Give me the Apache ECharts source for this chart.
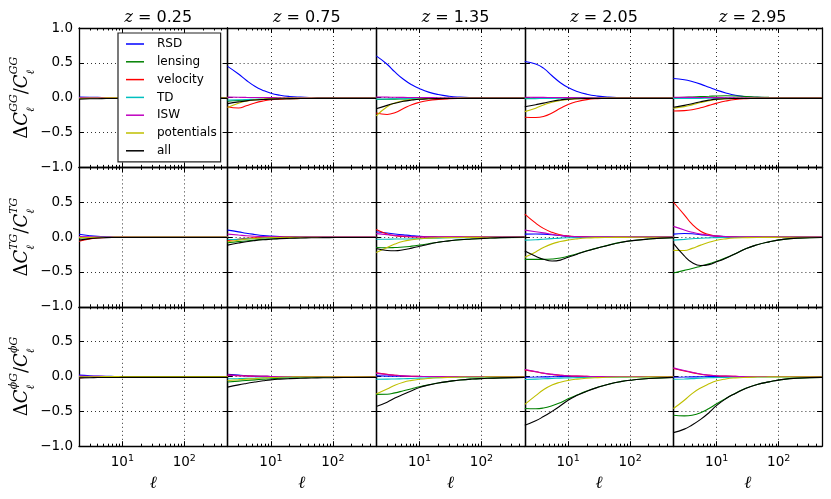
<!DOCTYPE html>
<html>
<head>
<meta charset="utf-8">
<script src="https://cdn.jsdelivr.net/npm/echarts@6.0.0/dist/echarts.min.js"></script>
<style>
  html, body { margin: 0; padding: 0; background: #fff; }
  #main { width: 831px; height: 499px; }
</style>
</head>
<body>
<div id="main"></div>
<script>
// multipoles the curves are sampled at
const ells = [2, 3, 4, 5.5, 7.5, 10, 14, 20, 30, 45, 70, 110, 200, 500];
const redshifts = ['0.25', '0.75', '1.35', '2.05', '2.95'];
const effects = ['RSD', 'lensing', 'velocity', 'TD', 'ISW', 'potentials', 'all'];
const effectColors = ['#0000ff', '#008000', '#ff0000', '#00bfbf', '#bf00bf', '#bfbf00', '#000000'];
const majorTicks = [10, 100];
const minorTicks = [3, 4, 5, 6, 7, 8, 9, 20, 30, 40, 50, 60, 70, 80, 90, 200, 300, 400];

// ---- GG ----
const GG_z025 = {
  RSD:        [0.01, 0.007, 0.005, 0.003, 0.002, 0.001, 0, 0, 0, 0, 0, 0, 0, 0],
  lensing:    [-0.006, -0.005, -0.004, -0.004, -0.003, -0.003, -0.002, -0.002, -0.001, -0.001, 0, 0, 0, 0],
  velocity:   [-0.012, -0.007, -0.004, -0.002, -0.001, 0, 0, 0, 0, 0, 0, 0, 0, 0],
  TD:         [-0.006, -0.005, -0.004, -0.003, -0.003, -0.002, -0.002, -0.001, -0.001, 0, 0, 0, 0, 0],
  ISW:        [0.003, 0.002, 0.001, 0.001, 0, 0, 0, 0, 0, 0, 0, 0, 0, 0],
  potentials: [-0.01, -0.006, -0.004, -0.003, -0.002, -0.001, 0, 0, 0, 0, 0, 0, 0, 0],
  all:        [-0.02, -0.016, -0.014, -0.012, -0.011, -0.01, -0.01, -0.01, -0.01, -0.01, -0.01, -0.01, -0.01, -0.01]
};
const GG_z075 = {
  RSD:        [0.45, 0.34, 0.25, 0.165, 0.105, 0.064, 0.036, 0.018, 0.008, 0.003, 0.001, 0, 0, 0],
  lensing:    [-0.05, -0.04, -0.035, -0.03, -0.025, -0.02, -0.017, -0.014, -0.012, -0.011, -0.01, -0.01, -0.01, -0.01],
  velocity:   [-0.13, -0.148, -0.115, -0.075, -0.047, -0.03, -0.02, -0.015, -0.012, -0.01, -0.008, -0.007, -0.006, -0.005],
  TD:         [-0.035, -0.03, -0.027, -0.022, -0.018, -0.015, -0.012, -0.01, -0.008, -0.006, -0.005, -0.005, -0.005, -0.005],
  ISW:        [0.008, 0.006, 0.004, 0.003, 0.002, 0.001, 0, 0, 0, 0, 0, 0, 0, 0],
  potentials: [-0.14, -0.08, -0.05, -0.03, -0.02, -0.012, -0.008, -0.006, -0.005, -0.005, -0.005, -0.005, -0.005, -0.005],
  all:        [-0.085, -0.06, -0.045, -0.033, -0.025, -0.02, -0.016, -0.013, -0.012, -0.011, -0.01, -0.01, -0.01, -0.01]
};
const GG_z135 = {
  RSD:        [0.60, 0.48, 0.37, 0.265, 0.185, 0.13, 0.08, 0.045, 0.021, 0.009, 0.003, 0.001, 0, 0],
  lensing:    [-0.025, -0.022, -0.02, -0.018, -0.016, -0.014, -0.012, -0.011, -0.01, -0.01, -0.01, -0.01, -0.01, -0.01],
  velocity:   [-0.22, -0.24, -0.215, -0.155, -0.1, -0.066, -0.04, -0.025, -0.015, -0.01, -0.008, -0.006, -0.005, -0.005],
  TD:         [-0.02, -0.018, -0.016, -0.014, -0.012, -0.01, -0.009, -0.008, -0.007, -0.006, -0.005, -0.005, -0.005, -0.005],
  ISW:        [0.01, 0.008, 0.006, 0.004, 0.003, 0.002, 0.001, 0, 0, 0, 0, 0, 0, 0],
  potentials: [-0.26, -0.13, -0.075, -0.045, -0.028, -0.018, -0.013, -0.01, -0.008, -0.006, -0.005, -0.005, -0.005, -0.005],
  all:        [-0.16, -0.11, -0.08, -0.052, -0.034, -0.022, -0.016, -0.013, -0.012, -0.011, -0.01, -0.01, -0.01, -0.01]
};
const GG_z205 = {
  RSD:        [0.52, 0.485, 0.425, 0.315, 0.215, 0.146, 0.09, 0.05, 0.023, 0.008, 0.002, 0, 0, 0],
  lensing:    [-0.01, -0.008, -0.006, -0.004, -0.002, 0, 0.002, 0.003, 0.003, 0.002, 0.001, 0, 0, 0],
  velocity:   [-0.28, -0.285, -0.27, -0.22, -0.152, -0.097, -0.055, -0.027, -0.013, -0.008, -0.006, -0.005, -0.005, -0.005],
  TD:         [-0.015, -0.013, -0.011, -0.009, -0.008, -0.007, -0.006, -0.005, -0.005, -0.005, -0.005, -0.005, -0.005, -0.005],
  ISW:        [0.006, 0.005, 0.004, 0.003, 0.002, 0.001, 0, 0, 0, 0, 0, 0, 0, 0],
  potentials: [-0.2, -0.15, -0.105, -0.065, -0.04, -0.024, -0.015, -0.01, -0.007, -0.006, -0.005, -0.005, -0.005, -0.005],
  all:        [-0.13, -0.1, -0.078, -0.05, -0.032, -0.021, -0.015, -0.012, -0.011, -0.01, -0.01, -0.01, -0.01, -0.01]
};
const GG_z295 = {
  RSD:        [0.275, 0.257, 0.232, 0.195, 0.15, 0.108, 0.068, 0.035, 0.013, 0.004, 0.001, 0, 0, 0],
  lensing:    [0, 0.005, 0.01, 0.015, 0.02, 0.025, 0.027, 0.025, 0.018, 0.01, 0.005, 0.002, 0, 0],
  velocity:   [-0.19, -0.185, -0.172, -0.145, -0.11, -0.078, -0.048, -0.026, -0.013, -0.007, -0.005, -0.005, -0.005, -0.005],
  TD:         [-0.012, -0.011, -0.01, -0.009, -0.008, -0.007, -0.006, -0.005, -0.005, -0.005, -0.005, -0.005, -0.005, -0.005],
  ISW:        [0.006, 0.005, 0.004, 0.003, 0.002, 0.001, 0, 0, 0, 0, 0, 0, 0, 0],
  potentials: [-0.15, -0.128, -0.103, -0.07, -0.043, -0.026, -0.016, -0.01, -0.007, -0.006, -0.005, -0.005, -0.005, -0.005],
  all:        [-0.137, -0.11, -0.086, -0.057, -0.035, -0.021, -0.014, -0.012, -0.011, -0.01, -0.01, -0.01, -0.01, -0.01]
};

// ---- TG ----
const TG_z025 = {
  RSD:        [0.04, 0.02, 0.01, 0.005, 0.002, 0.001, 0, 0, 0, 0, 0, 0, 0, 0],
  lensing:    [-0.012, -0.009, -0.007, -0.005, -0.004, -0.003, -0.002, -0.002, -0.001, 0, 0, 0, 0, 0],
  velocity:   [-0.06, -0.025, -0.012, -0.006, -0.003, -0.001, 0, 0, 0, 0, 0, 0, 0, 0],
  TD:         [-0.006, -0.005, -0.004, -0.003, -0.002, -0.002, -0.001, 0, 0, 0, 0, 0, 0, 0],
  ISW:        [0.008, 0.005, 0.003, 0.002, 0.001, 0, 0, 0, 0, 0, 0, 0, 0, 0],
  potentials: [-0.008, -0.005, -0.003, -0.002, -0.001, 0, 0, 0, 0, 0, 0, 0, 0, 0],
  all:        [-0.043, -0.022, -0.012, -0.008, -0.006, -0.005, -0.005, -0.005, -0.005, -0.005, -0.005, -0.005, -0.005, -0.005]
};
const TG_z075 = {
  RSD:        [0.10, 0.075, 0.055, 0.038, 0.024, 0.015, 0.008, 0.004, 0.002, 0, 0, 0, 0, 0],
  lensing:    [-0.08, -0.065, -0.055, -0.043, -0.033, -0.024, -0.017, -0.012, -0.008, -0.006, -0.005, -0.005, -0.005, -0.005],
  velocity:   [-0.048, -0.03, -0.018, -0.01, -0.006, -0.003, -0.001, 0, 0, 0, 0, 0, 0, 0],
  TD:         [-0.034, -0.03, -0.025, -0.02, -0.015, -0.01, -0.007, -0.005, -0.004, -0.003, -0.003, -0.003, -0.003, -0.003],
  ISW:        [0.043, 0.03, 0.02, 0.012, 0.007, 0.004, 0.002, 0.001, 0, 0, 0, 0, 0, 0],
  potentials: [-0.067, -0.045, -0.03, -0.02, -0.012, -0.008, -0.005, -0.004, -0.003, -0.003, -0.003, -0.003, -0.003, -0.003],
  all:        [-0.115, -0.085, -0.066, -0.05, -0.038, -0.03, -0.022, -0.017, -0.013, -0.01, -0.008, -0.006, -0.005, -0.005]
};
const TG_z135 = {
  RSD:        [0.077, 0.058, 0.045, 0.032, 0.02, 0.011, 0.005, 0.002, 0, 0, 0, 0, 0, 0],
  lensing:    [-0.15, -0.153, -0.15, -0.143, -0.13, -0.115, -0.095, -0.073, -0.053, -0.038, -0.027, -0.018, -0.008, -0.004],
  velocity:   [0.11, 0.045, 0.02, 0.008, 0.003, 0.001, 0, 0, 0, 0, 0, 0, 0, 0],
  TD:         [-0.03, -0.03, -0.028, -0.027, -0.025, -0.022, -0.018, -0.014, -0.01, -0.008, -0.006, -0.005, -0.004, -0.003],
  ISW:        [0.05, 0.035, 0.025, 0.015, 0.008, 0.004, 0.002, 0, 0, 0, 0, 0, 0, 0],
  potentials: [-0.22, -0.15, -0.1, -0.06, -0.038, -0.024, -0.015, -0.01, -0.007, -0.005, -0.004, -0.003, -0.003, -0.003],
  all:        [-0.163, -0.192, -0.196, -0.182, -0.158, -0.132, -0.102, -0.074, -0.054, -0.038, -0.028, -0.018, -0.007, -0.003]
};
const TG_z205 = {
  RSD:        [0.043, 0.045, 0.042, 0.034, 0.022, 0.012, 0.006, 0.003, 0, 0, 0, 0, 0, 0],
  lensing:    [-0.32, -0.32, -0.32, -0.315, -0.3, -0.274, -0.24, -0.197, -0.155, -0.115, -0.076, -0.05, -0.028, -0.008],
  velocity:   [0.33, 0.2, 0.125, 0.068, 0.033, 0.015, 0.006, 0.002, 0, 0, 0, 0, 0, 0],
  TD:         [-0.043, -0.037, -0.03, -0.022, -0.015, -0.01, -0.007, -0.005, -0.004, -0.004, -0.003, -0.003, -0.003, -0.003],
  ISW:        [0.10, 0.077, 0.06, 0.04, 0.023, 0.012, 0.006, 0.003, 0, 0, 0, 0, 0, 0],
  potentials: [-0.29, -0.213, -0.15, -0.097, -0.064, -0.042, -0.025, -0.013, -0.007, -0.005, -0.004, -0.003, -0.003, -0.003],
  all:        [-0.2, -0.275, -0.318, -0.343, -0.33, -0.29, -0.245, -0.2, -0.157, -0.116, -0.077, -0.05, -0.028, -0.008]
};
const TG_z295 = {
  RSD:        [0.043, 0.052, 0.048, 0.035, 0.023, 0.014, 0.007, 0.003, 0, 0, 0, 0, 0, 0],
  lensing:    [-0.514, -0.477, -0.45, -0.417, -0.384, -0.346, -0.298, -0.238, -0.163, -0.11, -0.068, -0.036, -0.014, -0.005],
  velocity:   [0.5, 0.32, 0.185, 0.085, 0.036, 0.014, 0.005, 0.002, 0, 0, 0, 0, 0, 0],
  TD:         [-0.043, -0.032, -0.024, -0.016, -0.011, -0.007, -0.005, -0.004, -0.003, -0.003, -0.003, -0.003, -0.003, -0.003],
  ISW:        [0.154, 0.102, 0.07, 0.043, 0.025, 0.014, 0.007, 0.003, 0, 0, 0, 0, 0, 0],
  potentials: [-0.19, -0.193, -0.162, -0.115, -0.075, -0.045, -0.025, -0.013, -0.008, -0.005, -0.004, -0.003, -0.003, -0.003],
  all:        [-0.09, -0.27, -0.365, -0.408, -0.395, -0.355, -0.302, -0.238, -0.163, -0.11, -0.068, -0.036, -0.014, -0.005]
};

// ---- phi G ----
const PG_z025 = {
  RSD:        [0.02, 0.01, 0.005, 0.002, 0.001, 0, 0, 0, 0, 0, 0, 0, 0, 0],
  lensing:    [-0.01, -0.008, -0.006, -0.005, -0.004, -0.003, -0.002, -0.002, -0.001, 0, 0, 0, 0, 0],
  velocity:   [-0.02, -0.01, -0.005, -0.002, -0.001, 0, 0, 0, 0, 0, 0, 0, 0, 0],
  TD:         [-0.008, -0.006, -0.005, -0.004, -0.003, -0.002, -0.002, -0.001, 0, 0, 0, 0, 0, 0],
  ISW:        [0.005, 0.003, 0.002, 0.001, 0, 0, 0, 0, 0, 0, 0, 0, 0, 0],
  potentials: [-0.005, -0.004, -0.003, -0.002, -0.001, 0, 0, 0, 0, 0, 0, 0, 0, 0],
  all:        [-0.02, -0.017, -0.015, -0.014, -0.014, -0.013, -0.013, -0.013, -0.013, -0.012, -0.012, -0.012, -0.012, -0.012]
};
const PG_z075 = {
  RSD:        [0.033, 0.02, 0.012, 0.006, 0.003, 0.001, 0, 0, 0, 0, 0, 0, 0, 0],
  lensing:    [-0.08, -0.066, -0.057, -0.048, -0.04, -0.032, -0.026, -0.021, -0.017, -0.014, -0.012, -0.011, -0.01, -0.01],
  velocity:   [0.02, 0.012, 0.007, 0.004, 0.002, 0.001, 0, 0, 0, 0, 0, 0, 0, 0],
  TD:         [-0.033, -0.03, -0.027, -0.024, -0.02, -0.017, -0.014, -0.012, -0.01, -0.008, -0.007, -0.006, -0.005, -0.005],
  ISW:        [0.018, 0.011, 0.007, 0.004, 0.002, 0.001, 0, 0, 0, 0, 0, 0, 0, 0],
  potentials: [-0.057, -0.046, -0.038, -0.03, -0.022, -0.015, -0.01, -0.007, -0.005, -0.005, -0.004, -0.004, -0.004, -0.004],
  all:        [-0.152, -0.12, -0.1, -0.08, -0.062, -0.048, -0.038, -0.031, -0.026, -0.022, -0.019, -0.016, -0.014, -0.012]
};
const PG_z135 = {
  RSD:        [0.01, 0.006, 0.004, 0.002, 0.001, 0, 0, 0, 0, 0, 0, 0, 0, 0],
  lensing:    [-0.257, -0.255, -0.235, -0.205, -0.175, -0.148, -0.12, -0.093, -0.07, -0.05, -0.036, -0.028, -0.02, -0.012],
  velocity:   [0.052, 0.03, 0.018, 0.008, 0.003, 0.001, 0, 0, 0, 0, 0, 0, 0, 0],
  TD:         [-0.04, -0.038, -0.035, -0.032, -0.028, -0.024, -0.02, -0.016, -0.013, -0.011, -0.01, -0.009, -0.008, -0.008],
  ISW:        [0.045, 0.028, 0.017, 0.009, 0.004, 0.002, 0, 0, 0, 0, 0, 0, 0, 0],
  potentials: [-0.25, -0.18, -0.125, -0.082, -0.056, -0.04, -0.027, -0.018, -0.012, -0.009, -0.007, -0.006, -0.005, -0.005],
  all:        [-0.43, -0.368, -0.31, -0.255, -0.205, -0.158, -0.122, -0.093, -0.07, -0.05, -0.036, -0.028, -0.02, -0.012]
};
const PG_z205 = {
  RSD:        [-0.01, -0.008, -0.006, -0.004, -0.002, -0.001, 0, 0, 0, 0, 0, 0, 0, 0],
  lensing:    [-0.46, -0.463, -0.452, -0.42, -0.375, -0.32, -0.265, -0.21, -0.155, -0.11, -0.074, -0.05, -0.028, -0.012],
  velocity:   [0.095, 0.068, 0.047, 0.03, 0.018, 0.01, 0.005, 0.002, 0, 0, 0, 0, 0, 0],
  TD:         [-0.043, -0.038, -0.033, -0.028, -0.024, -0.02, -0.016, -0.013, -0.011, -0.01, -0.009, -0.008, -0.008, -0.008],
  ISW:        [0.10, 0.07, 0.048, 0.03, 0.018, 0.01, 0.005, 0.002, 0, 0, 0, 0, 0, 0],
  potentials: [-0.40, -0.275, -0.19, -0.122, -0.082, -0.056, -0.037, -0.024, -0.016, -0.011, -0.008, -0.007, -0.006, -0.005],
  all:        [-0.70, -0.635, -0.575, -0.5, -0.42, -0.34, -0.27, -0.212, -0.156, -0.11, -0.074, -0.05, -0.028, -0.012]
};
const PG_z295 = {
  RSD:        [-0.01, -0.008, -0.006, -0.004, -0.002, -0.001, 0, 0, 0, 0, 0, 0, 0, 0],
  lensing:    [-0.557, -0.565, -0.555, -0.52, -0.46, -0.39, -0.315, -0.24, -0.166, -0.115, -0.077, -0.045, -0.023, -0.012],
  velocity:   [0.115, 0.08, 0.056, 0.033, 0.019, 0.01, 0.005, 0.002, 0, 0, 0, 0, 0, 0],
  TD:         [-0.04, -0.035, -0.03, -0.023, -0.018, -0.015, -0.012, -0.01, -0.009, -0.008, -0.008, -0.008, -0.008, -0.008],
  ISW:        [0.124, 0.085, 0.06, 0.035, 0.02, 0.01, 0.005, 0.002, 0, 0, 0, 0, 0, 0],
  potentials: [-0.46, -0.34, -0.245, -0.165, -0.105, -0.062, -0.035, -0.02, -0.012, -0.008, -0.006, -0.005, -0.005, -0.005],
  all:        [-0.805, -0.755, -0.695, -0.615, -0.52, -0.415, -0.32, -0.243, -0.167, -0.115, -0.077, -0.045, -0.023, -0.012]
};

const rows = [
  { sup: 'GG', panels: [GG_z025, GG_z075, GG_z135, GG_z205, GG_z295] },
  { sup: 'TG', panels: [TG_z025, TG_z075, TG_z135, TG_z205, TG_z295] },
  { sup: 'ϕG', panels: [PG_z025, PG_z075, PG_z135, PG_z205, PG_z295] }
];

const gridLeft = 79, gridTop = 28, cellW = 148.6, cellH = 139.4;

const spine = { show: true, onZero: false, lineStyle: { color: '#000', width: 1.3 } };
const dotted = { show: true, lineStyle: { color: '#333', width: 1, type: [1, 3] } };
const sans = 'DejaVu Sans';
const mathFont = { fontFamily: 'DejaVu Serif', fontStyle: 'italic', fontWeight: 'normal', color: '#000' };

function majorX(i, pos, labels) {
  return {
    type: 'log', logBase: 10, gridIndex: i, position: pos, min: 2, max: 500,
    axisLine: spine,
    axisTick: { show: true, inside: true, length: 5, customValues: majorTicks, lineStyle: { color: '#000', width: 1 } },
    axisLabel: {
      show: labels, customValues: majorTicks, margin: 7,
      fontFamily: sans, fontSize: 13.5, color: '#000',
      formatter: v => '{n|10}{s|' + Math.round(Math.log10(v)) + '}',
      rich: {
        n: { fontFamily: sans, fontSize: 13.5, color: '#000', lineHeight: 18 },
        s: { fontFamily: sans, fontSize: 9.5, color: '#000', lineHeight: 10, verticalAlign: 'top' }
      }
    },
    splitLine: pos === 'bottom' ? dotted : { show: false },
    name: labels ? 'ℓ' : '',
    nameLocation: 'middle', nameGap: 29,
    nameTextStyle: Object.assign({}, mathFont, { fontSize: 17 })
  };
}

function minorX(i, pos) {
  return {
    type: 'log', logBase: 10, gridIndex: i, position: pos, min: 2, max: 500,
    axisLine: { show: false, onZero: false },
    axisTick: { show: true, inside: true, length: 2.5, customValues: minorTicks, lineStyle: { color: '#000', width: 1 } },
    axisLabel: { show: false },
    splitLine: { show: false }
  };
}

function leftY(i, c, r, sup) {
  const s = Object.assign({}, mathFont, { fontSize: 11, lineHeight: 12 });
  return {
    type: 'value', gridIndex: i, position: 'left', min: -1, max: 1, interval: 0.5,
    axisLine: spine,
    axisTick: { show: true, inside: true, length: 5, lineStyle: { color: '#000', width: 1 } },
    axisLabel: {
      show: c === 0, margin: 6, showMinLabel: true, showMaxLabel: r === 0,
      formatter: v => (v < 0 ? '\u2212' : '') + Math.abs(v).toFixed(1),
      fontFamily: sans, fontSize: 13.5, color: '#000'
    },
    splitLine: dotted,
    name: c === 0 ? '{d|Δ}{c|C}{l|ℓ}{s|' + sup + '}{d|/}{c|C}{l|ℓ}{s|' + sup + '}' : '',
    nameLocation: 'middle', nameRotate: 90, nameGap: 36,
    nameTextStyle: {
      rich: {
        d: { fontFamily: 'DejaVu Serif', fontSize: 18, lineHeight: 28, color: '#000' },
        c: Object.assign({}, mathFont, { fontSize: 18, lineHeight: 28 }),
        l: Object.assign({}, s, { verticalAlign: 'bottom', padding: [0, -4.5, 0, 0] }),
        s: Object.assign({}, s, { verticalAlign: 'top' })
      }
    }
  };
}

function rightY(i) {
  return {
    type: 'value', gridIndex: i, position: 'right', min: -1, max: 1, interval: 0.5,
    axisLine: spine,
    axisTick: { show: true, inside: true, length: 5, lineStyle: { color: '#000', width: 1 } },
    axisLabel: { show: false },
    splitLine: { show: false }
  };
}

const grids = [], xAxes = [], yAxes = [], series = [];
rows.forEach((row, r) => {
  row.panels.forEach((panel, c) => {
    const i = grids.length;
    grids.push({ left: gridLeft + c * cellW, top: gridTop + r * cellH, width: cellW, height: cellH });
    const bottomRow = r === rows.length - 1;
    xAxes.push(majorX(i, 'bottom', bottomRow), minorX(i, 'bottom'), majorX(i, 'top', false), minorX(i, 'top'));
    yAxes.push(leftY(i, c, r, row.sup), rightY(i));
    effects.forEach((name, k) => {
      series.push({
        type: 'line', name: name,
        xAxisIndex: 4 * i, yAxisIndex: 2 * i,
        data: ells.map((l, j) => [l, panel[name][j]]),
        showSymbol: false, symbol: 'none',
        smooth: 0.5,
        lineStyle: { color: effectColors[k], width: 1.1 },
        itemStyle: { color: effectColors[k] },
        emphasis: { disabled: true }
      });
    });
  });
});

const titles = redshifts.map((z, c) => ({
  text: '{i|z}{n| = ' + z + '}',
  left: gridLeft + c * cellW + cellW / 2, top: 5, textAlign: 'center',
  textStyle: {
    fontWeight: 'normal',
    rich: {
      i: Object.assign({}, mathFont, { fontSize: 16 }),
      n: { fontFamily: sans, fontSize: 16, fontWeight: 'normal', color: '#000' }
    }
  }
}));

const chart = echarts.init(document.getElementById('main'), null, { renderer: 'canvas' });
chart.setOption({
  animation: false,
  backgroundColor: '#fff',
  title: titles,
  legend: {
    data: effects, orient: 'vertical', left: 118, top: 33,
    padding: [3, 4, 3, 8], itemGap: 1.8, itemWidth: 18, itemHeight: 1.5, icon: 'rect',
    backgroundColor: '#fff', borderColor: '#222', borderWidth: 1.2, borderRadius: 0,
    textStyle: { fontFamily: sans, fontSize: 12, color: '#000', lineHeight: 16, padding: [0, 0, 0, 8] },
    selectedMode: false, z: 10
  },
  grid: grids,
  xAxis: xAxes,
  yAxis: yAxes,
  series: series
});
</script>
</body>
</html>
